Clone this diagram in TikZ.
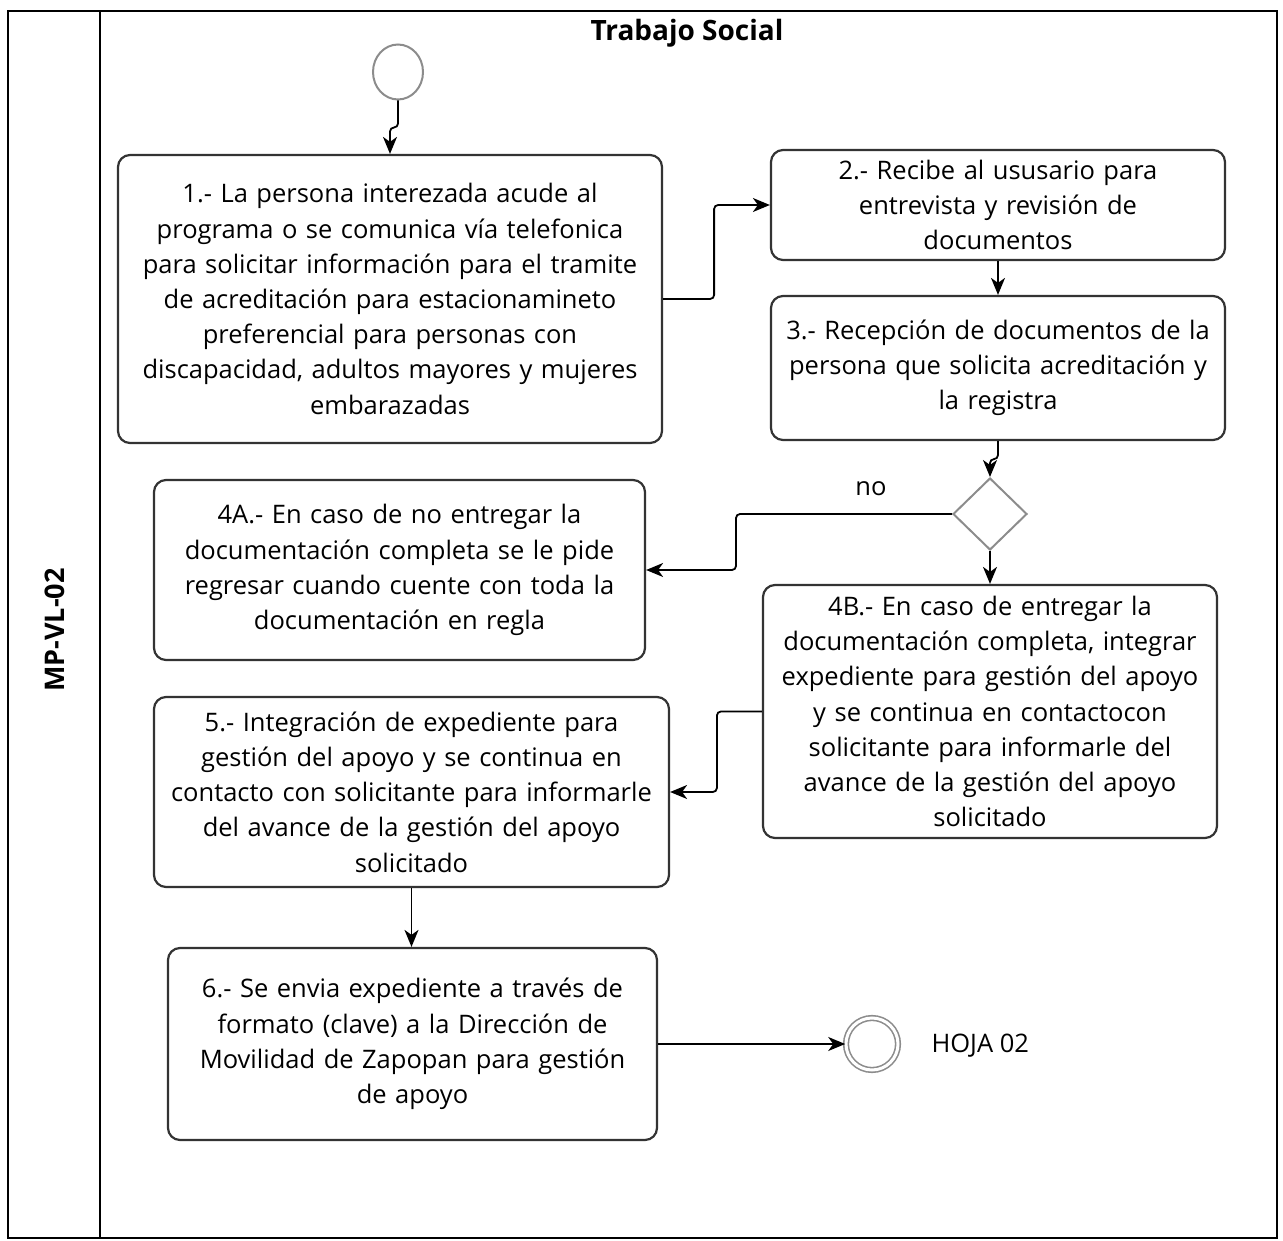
\documentclass[tikz,border=0pt]{standalone}
\usepackage{fontspec}
\setmainfont{Open Sans}
\usetikzlibrary{shapes.geometric,arrows.meta}
\definecolor{boxline}{HTML}{333333}
\definecolor{evgray}{HTML}{8C8C8C}
\begin{document}
\begin{tikzpicture}[x=1pt,y=-1pt,
  stepbox/.style={draw=boxline,line width=2.2pt,rounded corners=12pt,align=center,inner sep=4pt,
    font=\fontsize{25.5}{35.2}\selectfont},
  arr/.style={draw=black,line width=1.8pt,rounded corners=4pt,-{Stealth[length=17pt,width=14pt,inset=5pt]}},
  lbl/.style={font=\fontsize{25.5}{30}\selectfont}]
\useasboundingbox (0,0) rectangle (1283,1241);
% frame
\draw[line width=1.8pt] (8,11) rectangle (1277,1238);
\draw[line width=1.8pt] (100,11) -- (100,1238);
\node[font=\fontsize{28}{32}\selectfont\bfseries] (title) at (687,33) {Trabajo Social};
\node[font=\fontsize{27}{32}\selectfont\bfseries,rotate=90] (lane) at (55,630) {MP-VL-02};
% events
\node[ellipse,draw=evgray,line width=2pt,minimum width=50pt,minimum height=55pt,inner sep=0pt] (start) at (398,72) {};
\node[circle,draw=evgray,line width=1.6pt,double=white,double distance=3pt,minimum size=52pt,inner sep=0pt] (end) at (872,1044) {};
\node[lbl,anchor=west] (hoja) at (928,1046) {HOJA 02};
% steps
\node[stepbox,minimum width=544pt,minimum height=288pt,text width=530pt] (b1) at (390,299)
 {1.- La persona interezada acude al\\programa o se comunica vía telefonica\\para solicitar información para el tramite\\de acreditación para estacionamineto\\preferencial para personas con\\discapacidad, adultos mayores y mujeres\\embarazadas};
\node[stepbox,minimum width=454pt,minimum height=110pt,text width=440pt] (b2) at (998,205)
 {2.- Recibe al ususario para\\entrevista y revisión de\\documentos};
\node[stepbox,minimum width=454pt,minimum height=144pt,text width=440pt] (b3) at (998,368)
 {3.- Recepción de documentos de la\\persona que solicita acreditación y\\la registra};
\node[diamond,draw=evgray,line width=2pt,minimum width=74pt,minimum height=72pt,inner sep=0pt] (dia) at (990,514) {};
\node[lbl] (no) at (871,489) {no};
\node[stepbox,minimum width=491pt,minimum height=180pt,text width=480pt] (b4a) at (399.5,570)
 {4A.- En caso de no entregar la\\documentación completa se le pide\\regresar cuando cuente con toda la\\documentación en regla};
\node[stepbox,minimum width=454pt,minimum height=253pt,text width=440pt] (b4b) at (990,711.5)
 {4B.- En caso de entregar la\\documentación completa, integrar\\expediente para gestión del apoyo\\y se continua en contactocon\\solicitante para informarle del\\avance de la gestión del apoyo\\solicitado};
\node[stepbox,minimum width=515pt,minimum height=190pt,text width=505pt] (b5) at (411.5,792)
 {5.- Integración de expediente para\\gestión del apoyo y se continua en\\contacto con solicitante para informarle\\del avance de la gestión del apoyo\\solicitado};
\node[stepbox,minimum width=489pt,minimum height=192pt,text width=478pt] (b6) at (412.5,1044)
 {6.- Se envia expediente a través de\\formato (clave) a la Dirección de\\Movilidad de Zapopan para gestión\\de apoyo};
% connectors
\draw[arr] (start.south) -- ++(0,27) -| (b1.north);
\draw[arr] (b1.east) -- ++(51,0) |- (b2.west);
\draw[arr] (b2.south) -- (b3.north);
\draw[arr] (b3.south) -- ++(0,18) -| (dia.north);
\draw[arr] (dia.west) -- ++(-216,0) |- (b4a.east);
\draw[arr] (dia.south) -- (b4b.north);
\draw[arr] (b4b.west) -- ++(-45,0) |- (b5.east);
\draw[arr] (b5.south) -- (b5.south |- b6.north);
\draw[arr] (b6.east) -- (end.west);
\end{tikzpicture}
\end{document}
